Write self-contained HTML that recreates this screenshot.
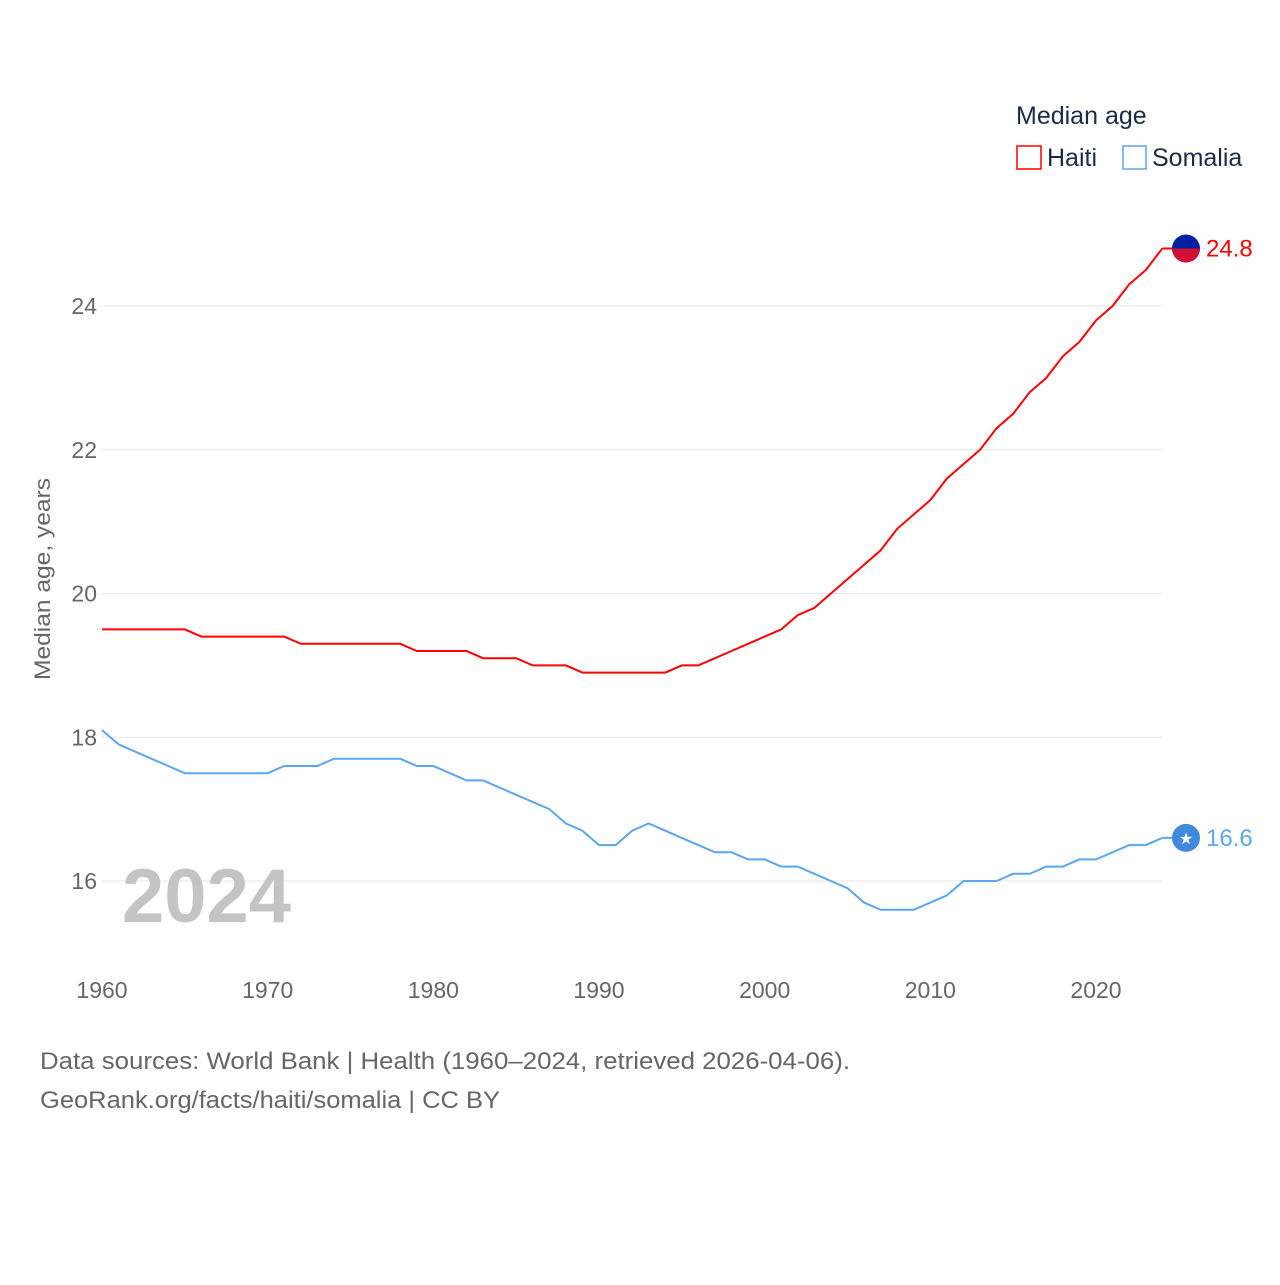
<!DOCTYPE html>
<html><head><meta charset="utf-8"><style>
body{margin:0;background:#fff;font-family:"Liberation Sans",sans-serif}
svg text{font-family:"Liberation Sans",sans-serif}
</style></head><body>
<svg id="chart" width="1280" height="1280" xmlns="http://www.w3.org/2000/svg">
<g id="grid"></g>
<g id="yticks"></g>
<g id="xticks"></g>
<text x="0" y="0" transform="translate(50,579) rotate(-90)" text-anchor="middle" font-size="22" fill="#666" textLength="202" lengthAdjust="spacingAndGlyphs">Median age, years</text>
<text x="122" y="922" font-size="76" font-weight="bold" fill="#c4c4c4">2024</text>
<g id="lines"></g>
<g>
<text x="1016" y="124" font-size="25" fill="#1a2b4a">Median age</text>
<rect x="1017" y="146" width="24" height="23" fill="none" stroke="#ff0000" stroke-width="1.5"/>
<text x="1047" y="166" font-size="25" fill="#1a2b4a">Haiti</text>
<rect x="1123" y="146" width="23" height="23" fill="none" stroke="#5aa6f0" stroke-width="1.5"/>
<text x="1152" y="166" font-size="25" fill="#1a2b4a">Somalia</text>
</g>
<text x="40" y="1069" font-size="24" fill="#666" textLength="810" lengthAdjust="spacingAndGlyphs">Data sources: World Bank | Health (1960–2024, retrieved 2026-04-06).</text>
<text x="40" y="1108" font-size="24" fill="#666" textLength="460" lengthAdjust="spacingAndGlyphs">GeoRank.org/facts/haiti/somalia | CC BY</text>
</svg>
<script>
const years=[];for(let y=1960;y<=2024;y++)years.push(y);
const haiti=[19.5,19.5,19.5,19.5,19.5,19.5,19.4,19.4,19.4,19.4,19.4,19.4,19.3,19.3,19.3,19.3,19.3,19.3,19.3,19.2,19.2,19.2,19.2,19.1,19.1,19.1,19.0,19.0,19.0,18.9,18.9,18.9,18.9,18.9,18.9,19.0,19.0,19.1,19.2,19.3,19.4,19.5,19.7,19.8,20.0,20.2,20.4,20.6,20.9,21.1,21.3,21.6,21.8,22.0,22.3,22.5,22.8,23.0,23.3,23.5,23.8,24.0,24.3,24.5,24.8];
const somalia=[18.1,17.9,17.8,17.7,17.6,17.5,17.5,17.5,17.5,17.5,17.5,17.6,17.6,17.6,17.7,17.7,17.7,17.7,17.7,17.6,17.6,17.5,17.4,17.4,17.3,17.2,17.1,17.0,16.8,16.7,16.5,16.5,16.7,16.8,16.7,16.6,16.5,16.4,16.4,16.3,16.3,16.2,16.2,16.1,16.0,15.9,15.7,15.6,15.6,15.6,15.7,15.8,16.0,16.0,16.0,16.1,16.1,16.2,16.2,16.3,16.3,16.4,16.5,16.5,16.6];
const yTicks=[16,18,20,22,24];
const xTicks=[1960,1970,1980,1990,2000,2010,2020];
const NS='http://www.w3.org/2000/svg';
const xs=y=>102+(y-1960)*(994/60);
const ys=v=>881-(v-16)*71.875;
function mk(t,a,p){const e=document.createElementNS(NS,t);for(const k in a)e.setAttribute(k,a[k]);p.appendChild(e);return e;}
const grid=document.getElementById('grid'),yt=document.getElementById('yticks'),xt=document.getElementById('xticks'),lines=document.getElementById('lines');
yTicks.forEach(v=>{
 const l=mk('line',{x1:102,x2:1162,y1:ys(v),y2:ys(v),stroke:'#e6e6e6','stroke-width':1},grid);
 
 
 const t=mk('text',{x:97,y:ys(v)+8,'text-anchor':'end','font-size':23,fill:'#666'},yt);t.textContent=v;
 
 
});
xTicks.forEach(v=>{
 const t=mk('text',{x:xs(v),y:998,'text-anchor':'middle','font-size':23,fill:'#666'},xt);t.textContent=v;
 
 
});
function series(vals,color,name){
 const d=vals.map((v,i)=>(i?'L':'M')+xs(years[i]).toFixed(1)+','+ys(v).toFixed(1)).join('');
 const p=mk('path',{d:d,fill:'none',stroke:color,'stroke-width':2},lines);
 
 
 const last=vals[vals.length-1],ly=ys(last);
 const h=mk('line',{x1:xs(2024),x2:1186,y1:ly,y2:ly,stroke:color,'stroke-width':2},lines);
 
 
 const c=mk('circle',{cx:1186,cy:ly,r:14,fill:name==='haiti'?'#00209f':'#4189dd'},lines);
 
 
 if(name==='haiti'){const r=mk('path',{d:`M1172,${ly} A14,14 0 0 0 1200,${ly} Z`,fill:'#d21034'},lines);
  
  }
 else{const s=mk('text',{x:1186,y:ly+6,'text-anchor':'middle','font-size':16,fill:'#fff'},lines);s.textContent='★';
  
  }
 const t=mk('text',{x:1206,y:ly+8,'font-size':24,fill:color},lines);t.textContent=last.toFixed(1);
 
 
}
series(haiti,'#ff0000','haiti');
series(somalia,'#5aa6f0','somalia');
</script>
</body></html>
